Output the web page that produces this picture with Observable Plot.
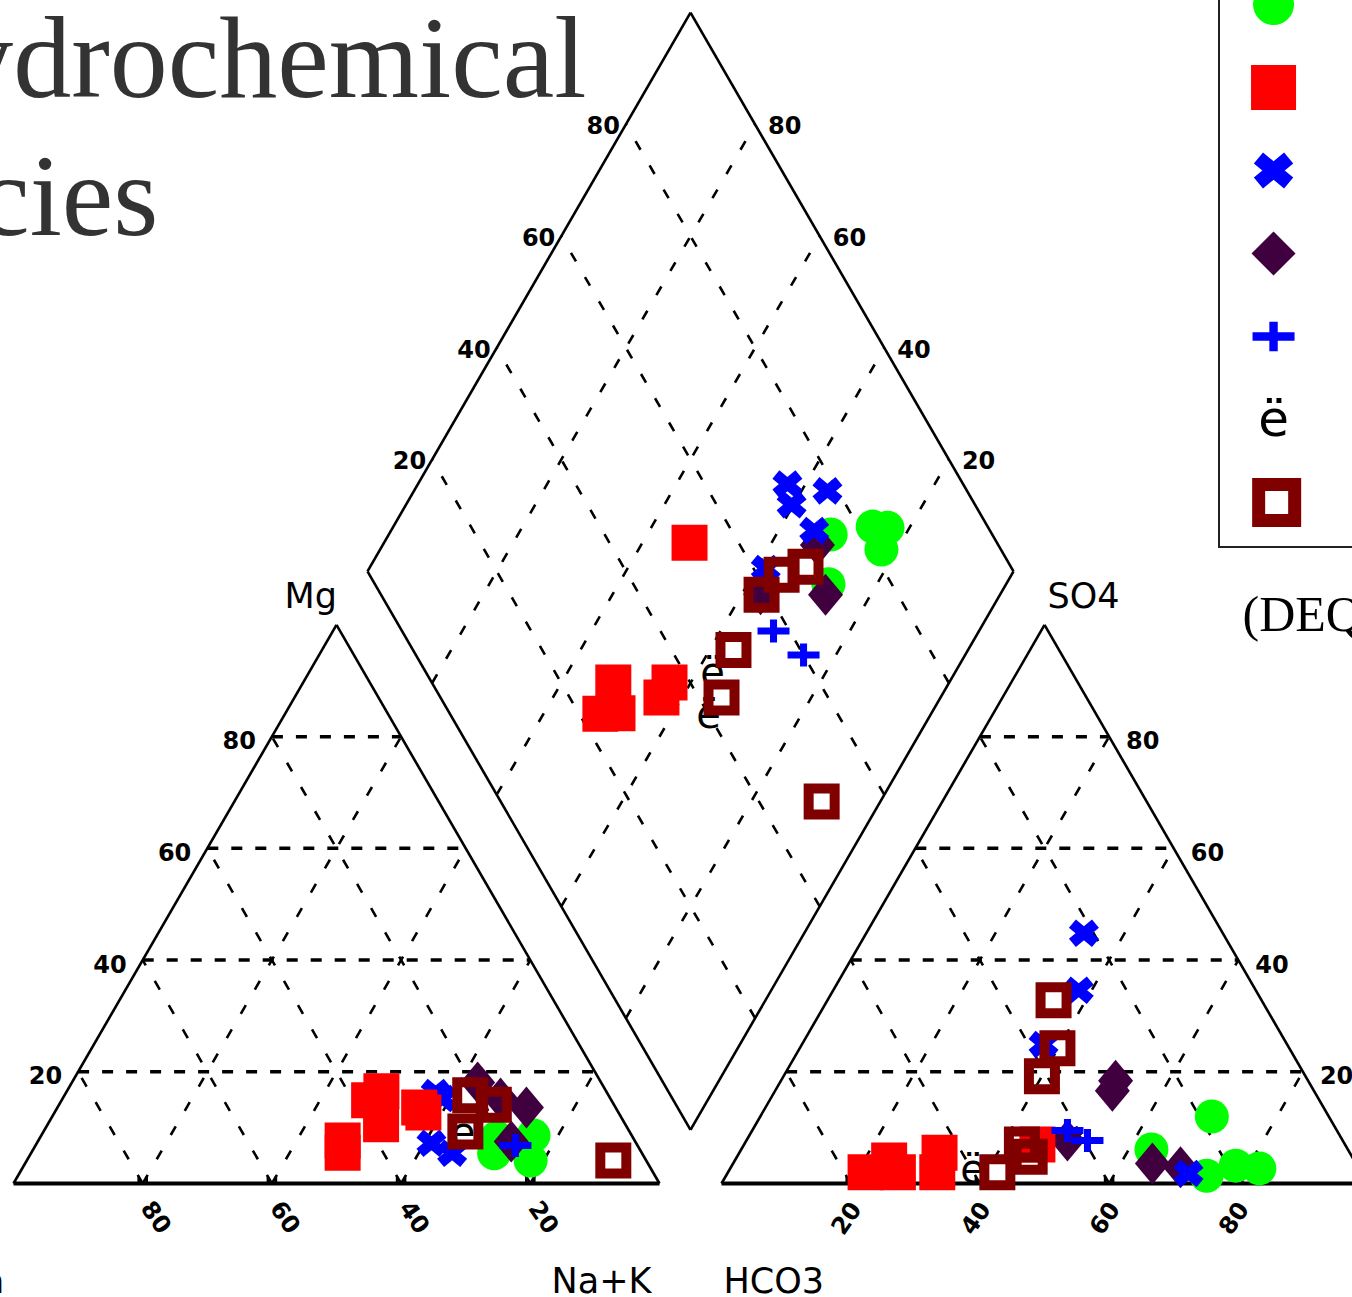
<!DOCTYPE html>
<html><head><meta charset="utf-8">
<script src="https://cdn.jsdelivr.net/npm/d3@7"></script>
<script src="https://cdn.jsdelivr.net/npm/@observablehq/plot@0.6"></script>
<style>
html,body{margin:0;padding:0;background:#fff;overflow:hidden}
#wrap{position:relative;width:1352px;height:1297px;overflow:hidden;background:#fff}
#wrap svg{display:block;max-width:none}
#legend{position:absolute;left:1218px;top:-10px;width:160px;height:558px;border:2px solid #222;box-sizing:border-box;background:#fff}
</style></head><body><div id="wrap"></div>
<script>
// ---------------- DATA ----------------
const gridPct = [20, 40, 60, 80];

// Cation triangle: [Ca %, Mg %]  (Na+K = remainder)
const cationGreen    = [[21.1,8.2],[22.9,5.4],[15.2,8.6],[17.9,4.1]];
const cationRed      = [[34.8,16.5],[37.8,10.6],[37.5,14.9],[30.4,13.6],[30.2,12.7],[45.2,7.7],[46.3,5.5]];
const cationBlueX    = [[26.5,16.3],[26.0,15.2],[31.7,7.2],[29.4,5.4]];
const cationPurple   = [[19.1,18.1],[17.0,15.2],[13.8,13.6],[19.2,7.5]];
const cationBluePlus = [[18.9,6.8]];
const cationGlyph    = [[25.9,9.0]];
const cationDarkRed  = [[25.4,9.3],[21.4,15.8],[18.6,14.1],[5.1,4.1]];

// Anion triangle: [Cl %, SO4 %]  (HCO3 = remainder)
const anionGreen    = [[69.9,12.0],[63.5,6.1],[74.4,1.4],[78.0,3.2],[81.9,2.7]];
const anionRed      = [[23.9,4.1],[21.3,2.0],[26.3,2.0],[31.0,5.5],[32.4,2.0],[45.4,7.0]];
const anionBlueX    = [[33.7,44.8],[38.0,34.6],[37.4,24.9],[71.4,1.8]];
const anionPurple   = [[51.8,18.4],[52.2,16.6],[49.7,7.7],[64.9,3.6],[69.6,2.9]];
const anionBluePlus = [[48.8,9.5],[52.8,7.7]];
const anionGlyph    = [[37.7,2.3]];
const anionDarkRed  = [[35.0,32.8],[39.9,24.2],[40.0,19.2],[43.0,7.0],[45.3,4.8],[41.7,2.0]];

// Diamond: [Ca+Mg %, SO4+Cl %]
const diamondGreen    = [[31.6,75.0],[25.8,82.2],[23.4,84.4],[22.4,81.5],[27.5,70.2]];
const diamondRed      = [[52.7,52.4],[52.0,28.1],[51.2,23.3],[48.6,26.0],[43.3,36.8],[43.2,34.2]];
const diamondBlueX    = [[42.8,72.8],[40.3,71.6],[36.0,78.4],[34.5,72.8],[38.6,61.9]];
const diamondPurple   = [[32.7,72.0],[27.0,68.8],[37.1,58.8]];
const diamondBluePlus = [[31.8,57.5],[25.0,60.0]];
const diamondGlyph    = [[37.5,44.3],[34.3,39.9]];
const diamondDarkRed  = [[32.6,68.2],[35.6,63.8],[36.9,58.9],[36.3,49.6],[33.9,43.5],[9.1,49.7]];

const legendKeys = ["green","red","blueX","purple","bluePlus","glyph","darkRed"];
const titleLines = ["Hydrochemical", "facies"];
const sourceText = ["(DEQ"];

// ---------------- GEOMETRY ----------------
const H = Math.sqrt(3) / 2, GAP = 0.096;
const cat = ([ca, mg]) => { const na = 100 - ca - mg; return [(na + mg / 2) / 100, mg / 100 * H]; };
const ani = ([cl, so4]) => [1 + GAP + (cl + so4 / 2) / 100, so4 / 100 * H];
const dia = ([cm, sc]) => { const c = cm / 100, s = sc / 100; return [1 + GAP / 2 + (s - c) / 2, GAP * H + (s + c) * H]; };
const seg = (p, q) => ({x1: p[0], y1: p[1], x2: q[0], y2: q[1]});
const pt = (p, extra = {}) => ({u: p[0], v: p[1], ...extra});
const P = (c, a, d) => [...c.map(cat), ...a.map(ani), ...d.map(dia)].map(p => pt(p));

// outlines
const edges = [
  seg(cat([100,0]), cat([0,100])), seg(cat([0,100]), cat([0,0])),
  seg(ani([0,0]), ani([0,100])), seg(ani([0,100]), ani([100,0])),
  seg(dia([0,0]), dia([100,0])), seg(dia([100,0]), dia([100,100])),
  seg(dia([100,100]), dia([0,100])), seg(dia([0,100]), dia([0,0]))
];
const bases = [seg(cat([100,0]), cat([0,0])), seg(ani([0,0]), ani([100,0]))];

const gridH = [], gridS = [];
for (const k of gridPct) {
  gridH.push(seg(cat([100-k,k]), cat([0,k])));
  gridS.push(seg(cat([k,0]), cat([k,100-k])));
  gridS.push(seg(cat([100-k,0]), cat([0,100-k])));
  gridH.push(seg(ani([0,k]), ani([100-k,k])));
  gridS.push(seg(ani([k,0]), ani([k,100-k])));
  gridS.push(seg(ani([100-k,0]), ani([0,100-k])));
  gridS.push(seg(dia([k,0]), dia([k,100])));
  gridS.push(seg(dia([0,k]), dia([100,k])));
}
const tickLen = 7 / 645;
const baseTicks = gridPct.flatMap(k => [cat([k,0]), ani([k,0])]).map(p => seg(p, [p[0], p[1] + tickLen]));

const lblCatBase = gridPct.map(k => pt(cat([k,0]), {t: String(k)}));
const lblAniBase = gridPct.map(k => pt(ani([k,0]), {t: String(k)}));
const lblCatSide = gridPct.map(k => pt(cat([100-k,k]), {t: String(k)}));
const lblAniSide = gridPct.map(k => pt(ani([100-k,k]), {t: String(k)}));
const lblDiaL = gridPct.map(k => pt(dia([100,k]), {t: String(k)}));
const lblDiaR = gridPct.map(k => pt(dia([k,100]), {t: String(k)}));

// ---------------- SYMBOLS ----------------
const sym = f => ({draw(ctx, size) { f(ctx, Math.sqrt(size / Math.PI)); }});
function quad(c, x1, y1, x2, y2, w) {
  const dx = x2 - x1, dy = y2 - y1, L = Math.hypot(dx, dy), nx = -dy / L * w, ny = dx / L * w;
  const pts = [[x1+nx,y1+ny],[x2+nx,y2+ny],[x2-nx,y2-ny],[x1-nx,y1-ny]];
  let A = 0; for (let i = 0; i < 4; i++) { const [xa,ya] = pts[i], [xb,yb] = pts[(i+1)%4]; A += xa*yb - xb*ya; }
  if (A < 0) pts.reverse();
  c.moveTo(pts[0][0], pts[0][1]); for (let i = 1; i < 4; i++) c.lineTo(pts[i][0], pts[i][1]); c.closePath();
}
const SQUARE = sym((c, r) => c.rect(-r, -r, 2*r, 2*r));
const diamondSym = asp => sym((c, r) => { c.moveTo(0, -r*asp); c.lineTo(r, 0); c.lineTo(0, r*asp); c.lineTo(-r, 0); c.closePath(); });
const XSYM = sym((c, r) => { const a = r*0.72, b = r*0.6, w = r*0.34; quad(c, -a, -b, a, b, w); quad(c, -a, b, a, -b, w); });
const plusSym = (tr, vr) => sym((c, r) => { const t = r*tr, hv = r*vr; c.rect(-r, -t, 2*r, 2*t); c.rect(-t, -hv, 2*t, 2*hv); });

const GREEN = "#00ff00", RED = "#ff0000", BLUE = "#0000ff", PURPLE = "#400040", DARKRED = "#800000";
const lab = {fontFamily: "DejaVu Sans", fontWeight: "bold", fontSize: 24, fill: "#000"};
const axName = {fontFamily: "DejaVu Sans", fontSize: 35, fill: "#000", lineAnchor: "bottom"};

// ---------------- MAIN PLOT ----------------
const corner = (p, t) => [pt(p, {t})];
const main = Plot.plot({
  width: 1352, height: 1297, margin: 0,
  x: {domain: [0, 1], range: [13, 659], axis: null},
  y: {domain: [0, 1], range: [1183, 538], axis: null},
  marks: [
    Plot.text([titleLines[0]], {frameAnchor: "top-left", dx: 586, dy: 96, textAnchor: "end", lineAnchor: "bottom", fontSize: 116, fontFamily: "Liberation Serif", fill: "#333"}),
    Plot.text([titleLines[1]], {frameAnchor: "top-left", dx: 158, dy: 234, textAnchor: "end", lineAnchor: "bottom", fontSize: 116, fontFamily: "Liberation Serif", fill: "#333"}),
    Plot.text(sourceText, {frameAnchor: "top-left", dx: 1242, dy: 630, textAnchor: "start", lineAnchor: "bottom", fontSize: 50, fontFamily: "Liberation Serif", fill: "#000"}),
    Plot.link(gridS, {x1: "x1", y1: "y1", x2: "x2", y2: "y2", stroke: "#000", strokeWidth: 2.6, strokeDasharray: "10,18"}),
    Plot.link(gridH, {x1: "x1", y1: "y1", x2: "x2", y2: "y2", stroke: "#000", strokeWidth: 3.5, strokeDasharray: "11,13"}),
    Plot.link(edges, {x1: "x1", y1: "y1", x2: "x2", y2: "y2", stroke: "#000", strokeWidth: 2.6}),
    Plot.link(bases, {x1: "x1", y1: "y1", x2: "x2", y2: "y2", stroke: "#000", strokeWidth: 4}),
    Plot.link(baseTicks, {x1: "x1", y1: "y1", x2: "x2", y2: "y2", stroke: "#000", strokeWidth: 2.6, dx: -4}),
    Plot.link(baseTicks, {x1: "x1", y1: "y1", x2: "x2", y2: "y2", stroke: "#000", strokeWidth: 2.6, dx: 4}),
    Plot.text(lblCatBase, {x: "u", y: "v", text: "t", rotate: 55, dx: 13, dy: 34, ...lab}),
    Plot.text(lblAniBase, {x: "u", y: "v", text: "t", rotate: -55, dx: -4, dy: 35, ...lab}),
    Plot.text(lblCatSide, {x: "u", y: "v", text: "t", textAnchor: "end", dx: -16, dy: 5, ...lab}),
    Plot.text(lblAniSide, {x: "u", y: "v", text: "t", textAnchor: "start", dx: 17, dy: 5, ...lab}),
    Plot.text(lblDiaL, {x: "u", y: "v", text: "t", textAnchor: "end", dx: -6, dy: 2, ...lab}),
    Plot.text(lblDiaR, {x: "u", y: "v", text: "t", textAnchor: "start", dx: 13, dy: 2, ...lab}),
    Plot.text(corner(cat([0,100]), "Mg"), {x: "u", y: "v", text: "t", textAnchor: "start", dx: -52, dy: -17, ...axName}),
    Plot.text(corner(ani([0,100]), "SO4"), {x: "u", y: "v", text: "t", textAnchor: "start", dx: 3, dy: -17, ...axName}),
    Plot.text(corner(cat([0,0]), "Na+K"), {x: "u", y: "v", text: "t", textAnchor: "start", dx: -108, dy: 109, ...axName}),
    Plot.text(corner(ani([0,0]), "HCO3"), {x: "u", y: "v", text: "t", textAnchor: "start", dx: 2, dy: 109, ...axName}),
    Plot.text(corner(cat([100,0]), "Ca"), {x: "u", y: "v", text: "t", textAnchor: "end", dx: -9, dy: 109, ...axName}),
    // points
    Plot.dot(P(cationGreen, anionGreen, diamondGreen), {x: "u", y: "v", r: 17, symbol: "circle", fill: GREEN}),
    Plot.dot(P(cationPurple, anionPurple, diamondPurple), {x: "u", y: "v", r: 17.5, symbol: diamondSym(1.2), fill: PURPLE}),
    Plot.dot(P(cationBlueX, anionBlueX, diamondBlueX), {x: "u", y: "v", r: 16, symbol: XSYM, fill: BLUE}),
    Plot.dot(P(cationRed, anionRed, diamondRed), {x: "u", y: "v", r: 18, symbol: SQUARE, fill: RED}),
    Plot.dot(P(cationBluePlus, anionBluePlus, diamondBluePlus), {x: "u", y: "v", r: 16, symbol: plusSym(0.22, 0.72), fill: BLUE}),
    Plot.text(P(cationGlyph, anionGlyph, diamondGlyph), {x: "u", y: "v", text: () => "ë", fontSize: 40, fontFamily: "DejaVu Sans", fill: "#000"}),
    Plot.dot(P(cationDarkRed, anionDarkRed, diamondDarkRed), {x: "u", y: "v", r: 13, symbol: SQUARE, fill: "none", stroke: DARKRED, strokeWidth: 10})
  ]
});
document.getElementById("wrap").appendChild(main);

// ---------------- LEGEND ----------------
const legendDiv = document.createElement("div");
legendDiv.id = "legend";
const L = k => [{k}];
const legend = Plot.plot({
  width: 156, height: 554, margin: 0,
  x: {domain: [0, 1], range: [0, 156], axis: null},
  y: {type: "point", domain: legendKeys, range: [12, 510], padding: 0, axis: null},
  marks: [
    Plot.dot(L("green"), {x: () => 0.34, y: "k", r: 20.5, symbol: "circle", fill: GREEN}),
    Plot.dot(L("red"), {x: () => 0.34, y: "k", r: 22.5, symbol: SQUARE, fill: RED}),
    Plot.dot(L("blueX"), {x: () => 0.34, y: "k", r: 21, symbol: XSYM, fill: BLUE}),
    Plot.dot(L("purple"), {x: () => 0.34, y: "k", r: 22, symbol: diamondSym(1.0), fill: PURPLE}),
    Plot.dot(L("bluePlus"), {x: () => 0.34, y: "k", r: 21, symbol: plusSym(0.2, 0.7), fill: BLUE}),
    Plot.text(L("glyph"), {x: () => 0.34, y: "k", text: () => "ë", fontSize: 50, fontFamily: "DejaVu Sans", fill: "#000"}),
    Plot.dot(L("darkRed"), {x: () => 0.36, y: "k", r: 18, symbol: SQUARE, fill: "none", stroke: DARKRED, strokeWidth: 13})
  ]
});
legendDiv.appendChild(legend);
document.getElementById("wrap").appendChild(legendDiv);
</script>
</body></html>
